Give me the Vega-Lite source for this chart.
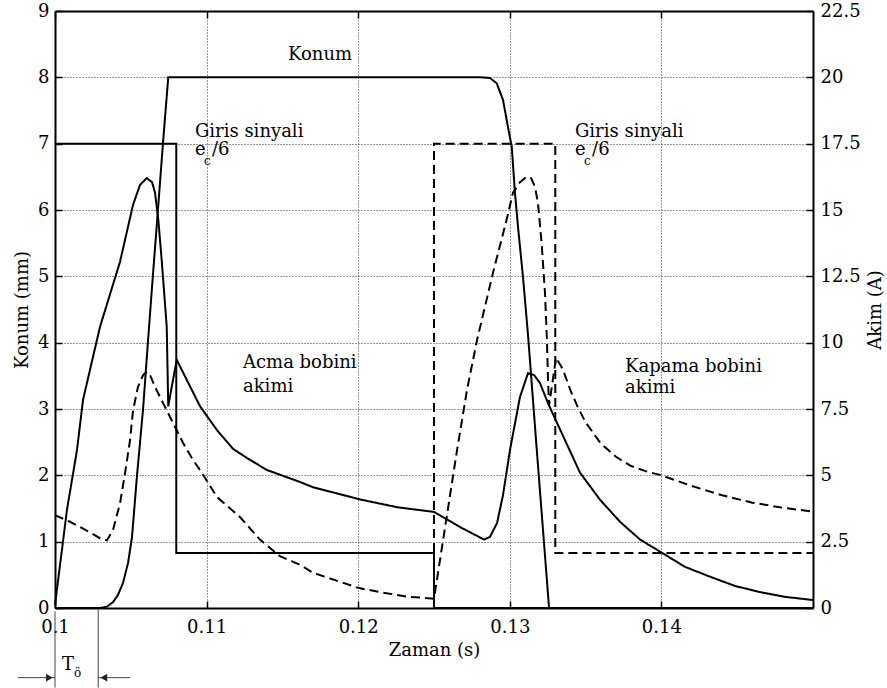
{
  "$schema": "https://vega.github.io/schema/vega-lite/v6.json",
  "width": 758,
  "height": 597,
  "autosize": "none",
  "padding": {"left": 55, "top": 11, "right": 74, "bottom": 80},
  "background": "white",
  "config": {
    "view": {"stroke": null},
    "axis": {
      "domainColor": "#000",
      "domainWidth": 2,
      "tickColor": "#000",
      "tickWidth": 1.5,
      "tickSize": -7,
      "labelFontSize": 20,
      "labelColor": "#000",
      "labelOverlap": false,
      "labelFlush": false,
      "titleFontSize": 20,
      "titleFontWeight": "normal",
      "titleColor": "#000",
      "gridColor": "#333",
      "gridDash": [1, 2],
      "gridWidth": 1,
      "gridOpacity": 1
    }
  },
  "datasets": {
    "signal": [
      {"t": 0.1, "v": 7, "name": "Acma"},
      {"t": 0.108, "v": 7, "name": "Acma"},
      {"t": 0.108, "v": 0.83, "name": "Acma"},
      {"t": 0.125, "v": 0.83, "name": "Acma"},
      {"t": 0.125, "v": 0, "name": "Acma"},
      {"t": 0.15, "v": 0, "name": "Acma"},
      {"t": 0.125, "v": 0, "name": "Kapama"},
      {"t": 0.125, "v": 7, "name": "Kapama"},
      {"t": 0.133, "v": 7, "name": "Kapama"},
      {"t": 0.133, "v": 0.83, "name": "Kapama"},
      {"t": 0.15, "v": 0.83, "name": "Kapama"}
    ],
    "position": [
      {"t": 0.1, "v": 0},
      {"t": 0.10297, "v": 0},
      {"t": 0.10343, "v": 0.02},
      {"t": 0.10383, "v": 0.09},
      {"t": 0.10416, "v": 0.2},
      {"t": 0.10449, "v": 0.38},
      {"t": 0.10482, "v": 0.68},
      {"t": 0.10508, "v": 1.07},
      {"t": 0.10541, "v": 2.0},
      {"t": 0.10581, "v": 3.0},
      {"t": 0.10614, "v": 4.04},
      {"t": 0.10646, "v": 5.02},
      {"t": 0.10679, "v": 6.0},
      {"t": 0.10712, "v": 7.0},
      {"t": 0.10747, "v": 8.0},
      {"t": 0.12804, "v": 8.0},
      {"t": 0.12869, "v": 7.99},
      {"t": 0.12914, "v": 7.91},
      {"t": 0.12955, "v": 7.66},
      {"t": 0.12988, "v": 7.25},
      {"t": 0.13013, "v": 6.95},
      {"t": 0.13034, "v": 6.26},
      {"t": 0.13054, "v": 5.75},
      {"t": 0.13087, "v": 4.99},
      {"t": 0.1312, "v": 4.12},
      {"t": 0.13173, "v": 2.53},
      {"t": 0.13259, "v": 0}
    ],
    "current": [
      {"t": 0.1, "a": 0.12, "name": "Acma"},
      {"t": 0.10079, "a": 3.7, "name": "Acma"},
      {"t": 0.10145, "a": 5.95, "name": "Acma"},
      {"t": 0.10185, "a": 7.85, "name": "Acma"},
      {"t": 0.10297, "a": 10.6, "name": "Acma"},
      {"t": 0.10429, "a": 13.05, "name": "Acma"},
      {"t": 0.10515, "a": 15.2, "name": "Acma"},
      {"t": 0.10561, "a": 15.95, "name": "Acma"},
      {"t": 0.10605, "a": 16.2, "name": "Acma"},
      {"t": 0.1064, "a": 16.05, "name": "Acma"},
      {"t": 0.1066, "a": 15.65, "name": "Acma"},
      {"t": 0.10682, "a": 14.6, "name": "Acma"},
      {"t": 0.10704, "a": 13.1, "name": "Acma"},
      {"t": 0.10737, "a": 10.6, "name": "Acma"},
      {"t": 0.10747, "a": 7.6, "name": "Acma"},
      {"t": 0.10772, "a": 8.4, "name": "Acma"},
      {"t": 0.10803, "a": 9.35, "name": "Acma"},
      {"t": 0.10869, "a": 8.6, "name": "Acma"},
      {"t": 0.10957, "a": 7.6, "name": "Acma"},
      {"t": 0.11069, "a": 6.7, "name": "Acma"},
      {"t": 0.11174, "a": 6.0, "name": "Acma"},
      {"t": 0.11267, "a": 5.65, "name": "Acma"},
      {"t": 0.11398, "a": 5.2, "name": "Acma"},
      {"t": 0.11616, "a": 4.75, "name": "Acma"},
      {"t": 0.11702, "a": 4.55, "name": "Acma"},
      {"t": 0.12005, "a": 4.1, "name": "Acma"},
      {"t": 0.12256, "a": 3.8, "name": "Acma"},
      {"t": 0.125, "a": 3.62, "name": "Acma"},
      {"t": 0.12672, "a": 3.05, "name": "Acma"},
      {"t": 0.1283, "a": 2.58, "name": "Acma"},
      {"t": 0.12869, "a": 2.68, "name": "Acma"},
      {"t": 0.12916, "a": 3.2, "name": "Acma"},
      {"t": 0.12955, "a": 4.25, "name": "Acma"},
      {"t": 0.13001, "a": 5.95, "name": "Acma"},
      {"t": 0.13067, "a": 7.95, "name": "Acma"},
      {"t": 0.1312, "a": 8.85, "name": "Acma"},
      {"t": 0.1316, "a": 8.78, "name": "Acma"},
      {"t": 0.13199, "a": 8.48, "name": "Acma"},
      {"t": 0.13252, "a": 7.72, "name": "Acma"},
      {"t": 0.13311, "a": 6.98, "name": "Acma"},
      {"t": 0.13384, "a": 6.08, "name": "Acma"},
      {"t": 0.13463, "a": 5.1, "name": "Acma"},
      {"t": 0.13595, "a": 4.08, "name": "Acma"},
      {"t": 0.13727, "a": 3.25, "name": "Acma"},
      {"t": 0.13859, "a": 2.58, "name": "Acma"},
      {"t": 0.14004, "a": 2.08, "name": "Acma"},
      {"t": 0.14156, "a": 1.55, "name": "Acma"},
      {"t": 0.14321, "a": 1.18, "name": "Acma"},
      {"t": 0.14486, "a": 0.83, "name": "Acma"},
      {"t": 0.1465, "a": 0.6, "name": "Acma"},
      {"t": 0.14815, "a": 0.42, "name": "Acma"},
      {"t": 0.15, "a": 0.3, "name": "Acma"},
      {"t": 0.1, "a": 3.5, "name": "Kapama"},
      {"t": 0.10099, "a": 3.25, "name": "Kapama"},
      {"t": 0.10198, "a": 2.95, "name": "Kapama"},
      {"t": 0.10297, "a": 2.63, "name": "Kapama"},
      {"t": 0.10343, "a": 2.55, "name": "Kapama"},
      {"t": 0.10383, "a": 2.95, "name": "Kapama"},
      {"t": 0.10429, "a": 3.95, "name": "Kapama"},
      {"t": 0.10462, "a": 5.08, "name": "Kapama"},
      {"t": 0.10495, "a": 6.33, "name": "Kapama"},
      {"t": 0.10515, "a": 7.45, "name": "Kapama"},
      {"t": 0.10547, "a": 8.33, "name": "Kapama"},
      {"t": 0.10581, "a": 8.78, "name": "Kapama"},
      {"t": 0.10605, "a": 8.9, "name": "Kapama"},
      {"t": 0.10627, "a": 8.78, "name": "Kapama"},
      {"t": 0.1066, "a": 8.33, "name": "Kapama"},
      {"t": 0.10712, "a": 7.73, "name": "Kapama"},
      {"t": 0.10778, "a": 6.98, "name": "Kapama"},
      {"t": 0.10844, "a": 6.23, "name": "Kapama"},
      {"t": 0.1091, "a": 5.58, "name": "Kapama"},
      {"t": 0.10957, "a": 5.2, "name": "Kapama"},
      {"t": 0.11069, "a": 4.18, "name": "Kapama"},
      {"t": 0.1122, "a": 3.43, "name": "Kapama"},
      {"t": 0.11352, "a": 2.58, "name": "Kapama"},
      {"t": 0.11484, "a": 1.95, "name": "Kapama"},
      {"t": 0.11616, "a": 1.63, "name": "Kapama"},
      {"t": 0.11702, "a": 1.33, "name": "Kapama"},
      {"t": 0.11847, "a": 1.05, "name": "Kapama"},
      {"t": 0.12005, "a": 0.75, "name": "Kapama"},
      {"t": 0.12164, "a": 0.58, "name": "Kapama"},
      {"t": 0.12322, "a": 0.43, "name": "Kapama"},
      {"t": 0.125, "a": 0.35, "name": "Kapama"},
      {"t": 0.12652, "a": 5.95, "name": "Kapama"},
      {"t": 0.12718, "a": 8.23, "name": "Kapama"},
      {"t": 0.12784, "a": 10.1, "name": "Kapama"},
      {"t": 0.12889, "a": 12.63, "name": "Kapama"},
      {"t": 0.12979, "a": 14.63, "name": "Kapama"},
      {"t": 0.13021, "a": 15.65, "name": "Kapama"},
      {"t": 0.13067, "a": 16.05, "name": "Kapama"},
      {"t": 0.13111, "a": 16.25, "name": "Kapama"},
      {"t": 0.1314, "a": 16.2, "name": "Kapama"},
      {"t": 0.13166, "a": 15.88, "name": "Kapama"},
      {"t": 0.13186, "a": 15.25, "name": "Kapama"},
      {"t": 0.1321, "a": 13.75, "name": "Kapama"},
      {"t": 0.13232, "a": 11.88, "name": "Kapama"},
      {"t": 0.13245, "a": 10.1, "name": "Kapama"},
      {"t": 0.13252, "a": 8.6, "name": "Kapama"},
      {"t": 0.13259, "a": 7.65, "name": "Kapama"},
      {"t": 0.13279, "a": 8.4, "name": "Kapama"},
      {"t": 0.13305, "a": 9.43, "name": "Kapama"},
      {"t": 0.1335, "a": 9.0, "name": "Kapama"},
      {"t": 0.134, "a": 8.2, "name": "Kapama"},
      {"t": 0.1345, "a": 7.55, "name": "Kapama"},
      {"t": 0.135, "a": 7.0, "name": "Kapama"},
      {"t": 0.136, "a": 6.2, "name": "Kapama"},
      {"t": 0.137, "a": 5.7, "name": "Kapama"},
      {"t": 0.138, "a": 5.35, "name": "Kapama"},
      {"t": 0.139, "a": 5.15, "name": "Kapama"},
      {"t": 0.14, "a": 5.0, "name": "Kapama"},
      {"t": 0.142, "a": 4.6, "name": "Kapama"},
      {"t": 0.144, "a": 4.25, "name": "Kapama"},
      {"t": 0.146, "a": 3.97, "name": "Kapama"},
      {"t": 0.148, "a": 3.78, "name": "Kapama"},
      {"t": 0.15, "a": 3.63, "name": "Kapama"}
    ],
    "notes": [
      {"t": 0.11537, "v": 8.26, "text": "Konum", "kind": "main"},
      {"t": 0.10923, "v": 7.1, "text": "Giris sinyali", "kind": "main"},
      {"t": 0.10923, "v": 6.83, "text": "e", "kind": "main"},
      {"t": 0.10983, "v": 6.68, "text": "c", "kind": "sub"},
      {"t": 0.11036, "v": 6.83, "text": "/6", "kind": "main"},
      {"t": 0.1343, "v": 7.1, "text": "Giris sinyali", "kind": "main"},
      {"t": 0.1343, "v": 6.83, "text": "e", "kind": "main"},
      {"t": 0.1349, "v": 6.68, "text": "c", "kind": "sub"},
      {"t": 0.13543, "v": 6.83, "text": "/6", "kind": "main"},
      {"t": 0.1124, "v": 3.62, "text": "Acma bobini", "kind": "main"},
      {"t": 0.1124, "v": 3.26, "text": "akimi", "kind": "main"},
      {"t": 0.1376, "v": 3.56, "text": "Kapama bobini", "kind": "main"},
      {"t": 0.1376, "v": 3.24, "text": "akimi", "kind": "main"},
      {"t": 0.10046, "v": -0.935, "text": "T", "kind": "main"},
      {"t": 0.10125, "v": -1.04, "text": "ö", "kind": "sub"}
    ],
    "delayBounds": [
      {"t": 0.1, "v": -0.05, "v2": -1.2},
      {"t": 0.10285, "v": -0.03, "v2": -1.2}
    ],
    "delayArrows": [
      {"t": 0.09756, "t2": 0.1, "v": -1.05},
      {"t": 0.10285, "t2": 0.10495, "v": -1.05}
    ],
    "delayHeads": [
      {"t": 0.09963, "v": -1.05, "dir": "right"},
      {"t": 0.10322, "v": -1.05, "dir": "left"}
    ]
  },
  "layer": [
    {
      "encoding": {
        "x": {
          "field": "t",
          "type": "quantitative",
          "scale": {"domain": [0.1, 0.15], "nice": false, "zero": false},
          "axis": {
            "orient": "bottom",
            "values": [0.1, 0.11, 0.12, 0.13, 0.14],
            "format": ".2~f",
            "title": "Zaman (s)",
            "labelFont": "DejaVu Serif",
            "titleFont": "DejaVu Serif",
            "labelFontSize": 18,
            "titleFontSize": 18,
            "grid": true,
            "labelPadding": 17,
            "titleX": 379,
            "titleY": 47,
            "titleAlign": "center",
            "titleBaseline": "alphabetic"
          }
        },
        "y": {
          "field": "v",
          "type": "quantitative",
          "scale": {"domain": [0, 9], "nice": false, "zero": false},
          "axis": {
            "orient": "left",
            "values": [0, 1, 2, 3, 4, 5, 6, 7, 8, 9],
            "format": "d",
            "title": "Konum (mm)",
            "labelFont": "DejaVu Serif",
            "titleFont": "DejaVu Serif",
            "labelFontSize": 18,
            "titleFontSize": 18,
            "grid": true,
            "labelPadding": 13,
            "titleX": -33,
            "titleY": 298.5,
            "titleAngle": 270,
            "titleAlign": "center",
            "titleBaseline": "middle"
          }
        }
      },
      "layer": [
        {
          "data": {"name": "signal"},
          "mark": {"type": "line", "color": "#000", "strokeWidth": 2, "interpolate": "linear"},
          "encoding": {
            "strokeDash": {
              "field": "name",
              "type": "nominal",
              "scale": {"domain": ["Acma", "Kapama"], "range": [[1, 0], [9, 5]]},
              "legend": null
            }
          }
        },
        {
          "data": {"name": "position"},
          "mark": {"type": "line", "color": "#000", "strokeWidth": 2}
        },
        {
          "data": {"name": "delayBounds"},
          "mark": {"type": "rule", "color": "#444", "strokeWidth": 1},
          "encoding": {"y2": {"field": "v2"}}
        },
        {
          "data": {"name": "delayArrows"},
          "mark": {"type": "rule", "color": "#444", "strokeWidth": 1},
          "encoding": {"x2": {"field": "t2"}}
        },
        {
          "data": {"name": "delayHeads"},
          "mark": {"type": "point", "filled": true, "color": "#222", "size": 60, "opacity": 1},
          "encoding": {
            "shape": {
              "field": "dir",
              "type": "nominal",
              "scale": {"domain": ["right", "left"], "range": ["triangle-right", "triangle-left"]},
              "legend": null
            }
          }
        },
        {
          "data": {"name": "notes"},
          "transform": [{"filter": "datum.kind === 'main'"}],
          "mark": {"type": "text", "align": "left", "baseline": "alphabetic", "fontSize": 18, "font": "DejaVu Serif", "color": "#000"},
          "encoding": {"text": {"field": "text"}}
        },
        {
          "data": {"name": "notes"},
          "transform": [{"filter": "datum.kind === 'sub'"}],
          "mark": {"type": "text", "align": "left", "baseline": "alphabetic", "fontSize": 12, "font": "DejaVu Serif", "color": "#000"},
          "encoding": {"text": {"field": "text"}}
        }
      ]
    },
    {
      "data": {"name": "current"},
      "mark": {"type": "line", "color": "#000", "strokeWidth": 2},
      "encoding": {
        "x": {
          "field": "t",
          "type": "quantitative",
          "scale": {"domain": [0.1, 0.15], "nice": false, "zero": false},
          "axis": {
            "orient": "top",
            "values": [0.1, 0.11, 0.12, 0.13, 0.14],
            "labels": false,
            "title": null,
            "grid": false
          }
        },
        "y": {
          "field": "a",
          "type": "quantitative",
          "scale": {"domain": [0, 22.5], "nice": false, "zero": false},
          "axis": {
            "orient": "right",
            "values": [0, 2.5, 5, 7.5, 10, 12.5, 15, 17.5, 20, 22.5],
            "format": ".1~f",
            "title": "Akim (A)",
            "labelFont": "DejaVu Serif",
            "titleFont": "DejaVu Serif",
            "labelFontSize": 18,
            "titleFontSize": 18,
            "grid": false,
            "labelPadding": 14,
            "titleX": 62,
            "titleY": 298.5,
            "titleAngle": 270,
            "titleAlign": "center",
            "titleBaseline": "middle"
          }
        },
        "strokeDash": {
          "field": "name",
          "type": "nominal",
          "scale": {"domain": ["Acma", "Kapama"], "range": [[1, 0], [9, 5]]},
          "legend": null
        }
      }
    }
  ],
  "resolve": {
    "scale": {"y": "independent", "strokeDash": "independent"},
    "axis": {"x": "independent", "y": "independent"}
  }
}
